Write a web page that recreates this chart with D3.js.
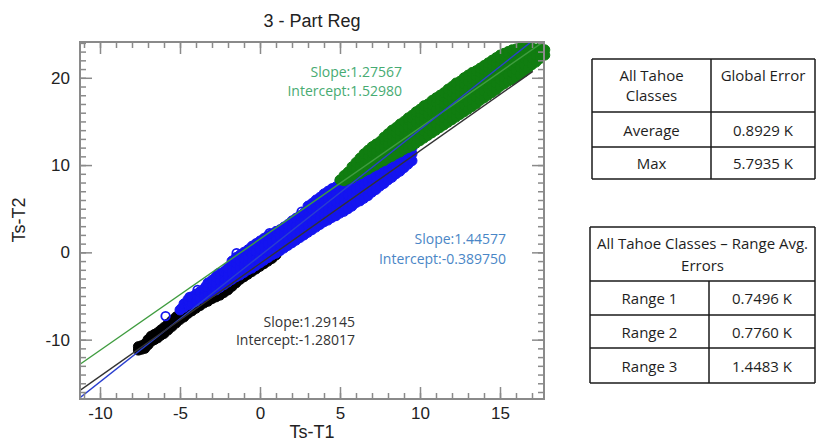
<!DOCTYPE html>
<html><head><meta charset="utf-8">
<script src="https://cdn.jsdelivr.net/npm/d3@7"></script>
<style>body{margin:0;background:#fff;} svg{display:block}</style>
</head><body><svg id="c" width="817" height="446"></svg>
<script>
// ---------- data ----------
const titleText = "3 - Part Reg";
const xLabel = "Ts-T1";
const yLabel = "Ts-T2";
const xDomain = [-11.25, 17.75];
const yDomain = [-16.8, 24.1];
const xTickValues = [-10, -5, 0, 5, 10, 15];
const yTickValues = [-10, 0, 10, 20];

// Range 1 (black) points: [Ts-T1, [Ts-T2 values]]
const blackCols = [
  [-7.6, [-11.2, -10.8]], [-7.4, [-11.1, -10.7]], [-7.2, [-11.0, -10.5]], [-7.0, [-10.6, -10.0]],
  [-6.8, [-10.2, -9.6]], [-6.6, [-10.0, -9.4]], [-6.4, [-9.8, -9.2]], [-6.2, [-9.5, -8.9]],
  [-6.0, [-9.3, -8.6]], [-5.75, [-8.9, -8.2]], [-5.5, [-8.5, -7.8]], [-5.25, [-8.1, -7.4]],
  [-5.0, [-7.7, -7.0]], [-4.75, [-7.4, -6.7]], [-4.5, [-7.0, -6.3]], [-4.25, [-6.7, -6.0]],
  [-4.0, [-6.4, -5.7]], [-3.75, [-6.1, -5.4]], [-3.5, [-5.8, -5.1]], [-3.25, [-5.6, -4.9]],
  [-3.0, [-5.3, -4.6]], [-2.75, [-5.1, -4.4]], [-2.5, [-4.9, -4.2]], [-2.25, [-4.6, -3.9]],
  [-2.0, [-4.3, -3.6]], [-1.75, [-3.9, -3.2]], [-1.5, [-3.5, -2.9]], [-1.25, [-3.1, -2.5]],
  [-1.0, [-2.8, -2.2]], [-0.75, [-2.5, -1.9]], [-0.5, [-2.2, -1.6]], [-0.25, [-1.9, -1.3]],
  [0.0, [-1.6, -1.0]], [0.25, [-1.3, -0.7]], [0.5, [-1.0, -0.4]], [0.75, [-0.7, -0.2]], [1.0, [-0.3]]
];
// Range 2 (blue) points
const blueCols = [
  [-5.0, [-6.6]], [-4.75, [-6.3, -5.9]], [-4.5, [-6.0, -5.4]], [-4.25, [-5.8, -5.1]],
  [-4.0, [-5.6, -4.8]], [-3.75, [-5.3, -4.5]], [-3.5, [-5.0, -4.2]], [-3.25, [-4.8, -4.0, -3.5]],
  [-3.0, [-4.5, -3.7, -3.2]], [-2.75, [-4.3, -3.5, -2.8]], [-2.5, [-4.0, -3.2, -2.5]],
  [-2.25, [-3.7, -2.9, -2.2]], [-2.0, [-3.4, -2.6, -1.8]], [-1.75, [-3.1, -2.3, -1.5, -1.0]],
  [-1.5, [-2.8, -2.0, -1.2, -0.6]], [-1.25, [-2.6, -1.8, -1.0, -0.3]], [-1.0, [-2.3, -1.5, -0.7, 0.0]],
  [-0.75, [-2.0, -1.2, -0.4, 0.3]], [-0.5, [-1.8, -1.0, -0.2, 0.7]], [-0.25, [-1.5, -0.7, 0.1, 1.0]],
  [0.0, [-1.2, -0.4, 0.4, 1.3]], [0.25, [-0.9, -0.1, 0.7, 1.6]], [0.5, [-0.6, 0.2, 1.0, 1.9]],
  [0.75, [-0.3, 0.5, 1.3, 2.1]], [1.0, [-0.1, 0.7, 1.5, 2.4]], [1.25, [0.2, 1.0, 1.8, 2.6]],
  [1.5, [0.5, 1.3, 2.1, 2.9]], [1.75, [0.8, 1.6, 2.4, 3.2]], [2.0, [1.1, 1.9, 2.7, 3.6]],
  [2.25, [1.4, 2.2, 3.0, 3.9]], [2.5, [1.7, 2.5, 3.3, 4.2]], [2.75, [2.0, 2.8, 3.6, 4.5]],
  [3.0, [2.3, 3.1, 3.9, 4.7, 5.3]], [3.25, [2.6, 3.4, 4.2, 5.0, 5.6]], [3.5, [2.9, 3.7, 4.5, 5.3, 6.0]],
  [3.75, [3.2, 4.0, 4.8, 5.6, 6.3]], [4.0, [3.5, 4.3, 5.1, 5.9, 6.7]], [4.25, [3.7, 4.5, 5.3, 6.1, 7.0]],
  [4.5, [4.0, 4.8, 5.6, 6.4, 7.3]], [4.75, [4.2, 5.0, 5.8, 6.6, 7.5]], [5.0, [4.5, 5.3, 6.1, 6.9, 7.7, 8.2]],
  [5.25, [4.7, 5.5, 6.3, 7.1, 7.9, 8.4]], [5.5, [5.0, 5.8, 6.6, 7.4, 8.2, 8.7]],
  [5.75, [5.3, 6.1, 6.9, 7.7, 8.5]], [6.0, [5.7, 6.5, 7.3, 8.1, 8.9]], [6.25, [5.9, 6.7, 7.5, 8.3, 9.1]],
  [6.5, [6.2, 7.0, 7.8, 8.6, 9.4]], [6.75, [6.5, 7.3, 8.1, 8.9, 9.7]], [7.0, [6.9, 7.7, 8.5, 9.3, 10.0]],
  [7.25, [7.2, 8.0, 8.8, 9.6, 10.2]], [7.5, [7.6, 8.4, 9.2, 10.0, 10.5]], [7.75, [7.9, 8.7, 9.5, 10.3, 10.8]],
  [8.0, [8.3, 9.1, 9.9, 10.7, 11.0]], [8.25, [8.6, 9.4, 10.2, 11.0, 11.2]], [8.5, [9.0, 9.8, 10.6, 11.4]],
  [8.75, [9.3, 10.1, 10.9, 11.6]], [9.0, [9.7, 10.5, 11.3, 11.9]], [9.25, [10.1, 10.9, 11.6, 12.0]],
  [9.5, [10.5, 11.3, 12.0]]
];
// Range 2 outliers (open circles)
const blueOpen = [
  [-5.9, -7.3], [-4.9, -6.4], [-4.4, -5.1], [-3.9, -4.3], [-3.4, -3.9],
  [-2.6, -2.4], [-1.46, -0.1], [0.6, 2.2], [2.6, 4.65]
];
// Range 3 (green) points
const greenCols = [
  [5.0, [8.3]], [5.25, [8.2, 8.8]], [5.5, [8.4, 9.2]], [5.75, [8.5, 9.3, 9.8]],
  [6.0, [8.8, 9.6, 10.3]], [6.25, [9.0, 9.8, 10.6, 10.8]], [6.5, [9.3, 10.1, 10.9, 11.3]],
  [6.75, [9.5, 10.3, 11.1, 11.7]], [7.0, [9.8, 10.6, 11.4, 12.1]], [7.25, [10.0, 10.8, 11.6, 12.4]],
  [7.5, [10.3, 11.1, 11.9, 12.7]], [7.75, [10.5, 11.3, 12.1, 12.9, 13.2]],
  [8.0, [10.8, 11.6, 12.4, 13.2, 13.6]], [8.25, [11.0, 11.8, 12.6, 13.4, 14.0]],
  [8.5, [11.3, 12.1, 12.9, 13.7, 14.3]], [8.75, [11.5, 12.3, 13.1, 13.9, 14.7]],
  [9.0, [11.8, 12.6, 13.4, 14.2, 15.0]], [9.25, [12.0, 12.8, 13.6, 14.4, 15.2, 15.4]],
  [9.5, [12.2, 13.0, 13.8, 14.6, 15.4, 15.7]], [9.75, [12.5, 13.3, 14.1, 14.9, 15.7, 16.1]],
  [10.0, [12.8, 13.6, 14.4, 15.2, 16.0, 16.4]], [10.25, [13.1, 13.9, 14.7, 15.5, 16.3, 16.8]],
  [10.5, [13.4, 14.2, 15.0, 15.8, 16.6, 17.0]], [10.75, [13.7, 14.5, 15.3, 16.1, 16.9, 17.4]],
  [11.0, [14.0, 14.8, 15.6, 16.4, 17.2, 17.7]], [11.25, [14.3, 15.1, 15.9, 16.7, 17.5, 18.0]],
  [11.5, [14.6, 15.4, 16.2, 17.0, 17.8, 18.3]], [11.75, [14.9, 15.7, 16.5, 17.3, 18.1, 18.7]],
  [12.0, [15.2, 16.0, 16.8, 17.6, 18.4, 19.0]], [12.25, [15.5, 16.3, 17.1, 17.9, 18.7, 19.4]],
  [12.5, [15.8, 16.6, 17.4, 18.2, 19.0, 19.6]], [12.75, [16.1, 16.9, 17.7, 18.5, 19.3, 20.0]],
  [13.0, [16.4, 17.2, 18.0, 18.8, 19.6, 20.3]], [13.25, [16.7, 17.5, 18.3, 19.1, 19.9, 20.6]],
  [13.5, [17.0, 17.8, 18.6, 19.4, 20.2, 20.8]], [13.75, [17.4, 18.2, 19.0, 19.8, 20.6, 21.1]],
  [14.0, [17.7, 18.5, 19.3, 20.1, 20.9, 21.4]], [14.25, [18.0, 18.8, 19.6, 20.4, 21.2, 21.7]],
  [14.5, [18.3, 19.1, 19.9, 20.7, 21.5, 22.0]], [14.75, [18.6, 19.4, 20.2, 21.0, 21.8, 22.3]],
  [15.0, [19.0, 19.8, 20.6, 21.4, 22.2, 22.6]], [15.25, [19.3, 20.1, 20.9, 21.7, 22.5, 22.8]],
  [15.5, [19.6, 20.4, 21.2, 22.0, 22.8, 23.0]], [15.75, [19.8, 20.6, 21.4, 22.2, 23.0, 23.2]],
  [16.0, [20.1, 20.9, 21.7, 22.5, 23.3]], [16.25, [20.4, 21.2, 22.0, 22.8, 23.4]],
  [16.5, [20.7, 21.5, 22.3, 23.1, 23.4]], [16.75, [21.1, 21.9, 22.7, 23.4]],
  [17.0, [21.5, 22.3, 23.1, 23.4]], [17.25, [21.8, 22.6, 23.3]],
  [17.5, [22.2, 23.0, 23.4]], [17.8, [22.6, 23.2]]
];

// regression fits: green (Range 3), blue (Range 2), black (Range 1)
const fitSlopes = [1.27567, 1.44577, 1.29145];
const fitIntercepts = [1.52980, -0.389750, -1.28017];
const fitXEnd = [17.75, 17.75, 17.05];
const fitSlopeText = ["Slope:1.27567", "Slope:1.44577", "Slope:1.29145"];
const fitInterceptText = ["Intercept:1.52980", "Intercept:-0.389750", "Intercept:-1.28017"];

// tables
const table1Header = [["All Tahoe", "Classes"], ["Global Error"]];
const table1Rows = [["Average", "0.8929 K"], ["Max", "5.7935 K"]];
const table2Header = ["All Tahoe Classes \u2013 Range Avg.", "Errors"];
const table2Rows = [["Range 1", "0.7496 K"], ["Range 2", "0.7760 K"], ["Range 3", "1.4483 K"]];

// ---------- drawing ----------
const svg = d3.select("#c");
const L = 80, R = 544, T = 42, B = 399;
const x = d3.scaleLinear().domain(xDomain).range([L, R]);
const y = d3.scaleLinear().domain(yDomain).range([B, T]);

const colors = {green: "#107d10", blue: "#1414f0", black: "#000000"};
const lineColors = ["#3f9c3f", "#2a3fcf", "#333333"];
const textColors = ["#47ab72", "#4a86c6", "#333333"];
const axisColor = "#8a8a8a";
const sans = "Liberation Sans, Arial, sans-serif";
const office = "'Open Sans', Lato, sans-serif";

svg.append("defs").append("clipPath").attr("id", "clip")
  .append("rect").attr("x", L).attr("y", T).attr("width", R - L).attr("height", B - T);

// title
svg.append("text").attr("x", (L + R) / 2).attr("y", 21).attr("text-anchor", "middle")
  .attr("dominant-baseline", "central")
  .style("font-family", sans).style("font-size", "18px")
  .attr("fill", "#222").text(titleText);

// points
const flat = cols => cols.flatMap(([xv, ys]) => ys.map(yv => [xv, yv]));
const pts = svg.append("g");
function drawFilled(data, col) {
  pts.append("g").selectAll("circle").data(data).join("circle")
    .attr("cx", d => x(d[0])).attr("cy", d => y(d[1])).attr("r", 5)
    .attr("fill", col).attr("stroke", col).attr("stroke-width", 1);
}
drawFilled(flat(blackCols), colors.black);
drawFilled(flat(blueCols), colors.blue);
pts.append("g").selectAll("circle").data(blueOpen).join("circle")
  .attr("cx", d => x(d[0])).attr("cy", d => y(d[1])).attr("r", 4.3)
  .attr("fill", "none").attr("stroke", colors.blue).attr("stroke-width", 1.8);
drawFilled(flat(greenCols), colors.green);

// fit lines
const lg = svg.append("g").attr("clip-path", "url(#clip)");
fitSlopes.forEach((s, i) => {
  const x0 = xDomain[0], x1 = fitXEnd[i];
  lg.append("line")
    .attr("x1", x(x0)).attr("y1", y(s * x0 + fitIntercepts[i]))
    .attr("x2", x(x1)).attr("y2", y(s * x1 + fitIntercepts[i]))
    .attr("stroke", lineColors[i]).attr("stroke-width", 1.4);
});

// frame + axes (ticks inward on all sides)
const fmt = d => String(d);
const tickFont = g => g.selectAll("text").style("font-family", sans)
  .style("font-size", "17px").attr("fill", "#222");
const styleAxis = g => { g.select(".domain").remove(); g.selectAll("line").attr("stroke", axisColor).attr("stroke-width", 1.5); };
const minorX = d3.range(-11, 18, 1), minorY = d3.range(-16, 25, 1);

svg.append("g").attr("transform", `translate(0,${B})`)
  .call(d3.axisBottom(x).tickValues(xTickValues).tickSize(-12).tickPadding(8).tickFormat(fmt))
  .call(styleAxis).call(tickFont);
svg.append("g").attr("transform", `translate(0,${B})`)
  .call(d3.axisBottom(x).tickValues(minorX).tickSize(-6).tickFormat("")).call(styleAxis);
svg.append("g").attr("transform", `translate(0,${T})`)
  .call(d3.axisTop(x).tickValues(xTickValues).tickSize(-12).tickFormat("")).call(styleAxis);
svg.append("g").attr("transform", `translate(0,${T})`)
  .call(d3.axisTop(x).tickValues(minorX).tickSize(-6).tickFormat("")).call(styleAxis);
svg.append("g").attr("transform", `translate(${L},0)`)
  .call(d3.axisLeft(y).tickValues(yTickValues).tickSize(-12).tickPadding(10).tickFormat(fmt))
  .call(styleAxis).call(tickFont);
svg.append("g").attr("transform", `translate(${L},0)`)
  .call(d3.axisLeft(y).tickValues(minorY).tickSize(-6).tickFormat("")).call(styleAxis);
svg.append("g").attr("transform", `translate(${R},0)`)
  .call(d3.axisRight(y).tickValues(yTickValues).tickSize(-12).tickFormat("")).call(styleAxis);
svg.append("g").attr("transform", `translate(${R},0)`)
  .call(d3.axisRight(y).tickValues(minorY).tickSize(-6).tickFormat("")).call(styleAxis);
svg.append("rect").attr("x", L).attr("y", T).attr("width", R - L).attr("height", B - T)
  .attr("fill", "none").attr("stroke", axisColor).attr("stroke-width", 2);

// axis titles
svg.append("text").attr("x", (L + R) / 2).attr("y", 432).attr("text-anchor", "middle")
  .attr("dominant-baseline", "central")
  .style("font-family", sans).style("font-size", "18px")
  .attr("fill", "#222").text(xLabel);
svg.append("text").attr("transform", "translate(19,220) rotate(-90)").attr("text-anchor", "middle")
  .attr("dominant-baseline", "central")
  .style("font-family", sans).style("font-size", "18px")
  .attr("fill", "#222").text(yLabel);

// fit annotations
const annot = [[402, 71, 90], [506, 238.5, 258], [355, 321, 339.5]];
annot.forEach(([ax, y1, y2], i) => {
  [[y1, fitSlopeText[i]], [y2, fitInterceptText[i]]].forEach(([yy, t]) => {
    svg.append("text").attr("x", ax).attr("y", yy).attr("text-anchor", "end")
      .attr("dominant-baseline", "central")
      .style("font-family", office).style("font-size", "14px")
      .attr("fill", textColors[i]).text(t);
  });
});

// tables
function tableText(xx, yy, t) {
  svg.append("text").attr("x", xx).attr("y", yy).attr("text-anchor", "middle")
    .attr("dominant-baseline", "central").style("font-family", office).style("font-size", "15px")
    .attr("fill", "#1e1e1e").text(t);
}
function hline(x1, x2, yy) { svg.append("line").attr("x1", x1).attr("x2", x2).attr("y1", yy).attr("y2", yy).attr("stroke", "#1a1a1a").attr("stroke-width", 1.5); }
function vline(xx, y1, y2) { svg.append("line").attr("x1", xx).attr("x2", xx).attr("y1", y1).attr("y2", y2).attr("stroke", "#1a1a1a").attr("stroke-width", 1.5); }

// table 1
{
  const l = 592, m = 711, r = 815, rows = [59, 112, 147, 179];
  rows.forEach(yy => hline(l, r, yy));
  vline(l, rows[0], rows[3]); vline(m, rows[0], rows[3]); vline(r, rows[0], rows[3]);
  const c1 = (l + m) / 2, c2 = (m + r) / 2;
  table1Header[0].forEach((t, i) => tableText(c1, 75 + i * 20, t));
  table1Header[1].forEach((t, i) => tableText(c2, 75 + i * 20, t));
  table1Rows.forEach((row, i) => {
    const cy = (rows[i + 1] + rows[i + 2]) / 2;
    tableText(c1, cy, row[0]); tableText(c2, cy, row[1]);
  });
}
// table 2
{
  const l = 590, m = 709, r = 815, rows = [227, 281, 315, 348, 383];
  rows.forEach(yy => hline(l, r, yy));
  vline(l, rows[0], rows[4]); vline(r, rows[0], rows[4]); vline(m, rows[1], rows[4]);
  table2Header.forEach((t, i) => tableText((l + r) / 2, 243 + i * 22, t));
  const c1 = (l + m) / 2, c2 = (m + r) / 2;
  table2Rows.forEach((row, i) => {
    const cy = (rows[i + 1] + rows[i + 2]) / 2;
    tableText(c1, cy, row[0]); tableText(c2, cy, row[1]);
  });
}
</script></body></html>
